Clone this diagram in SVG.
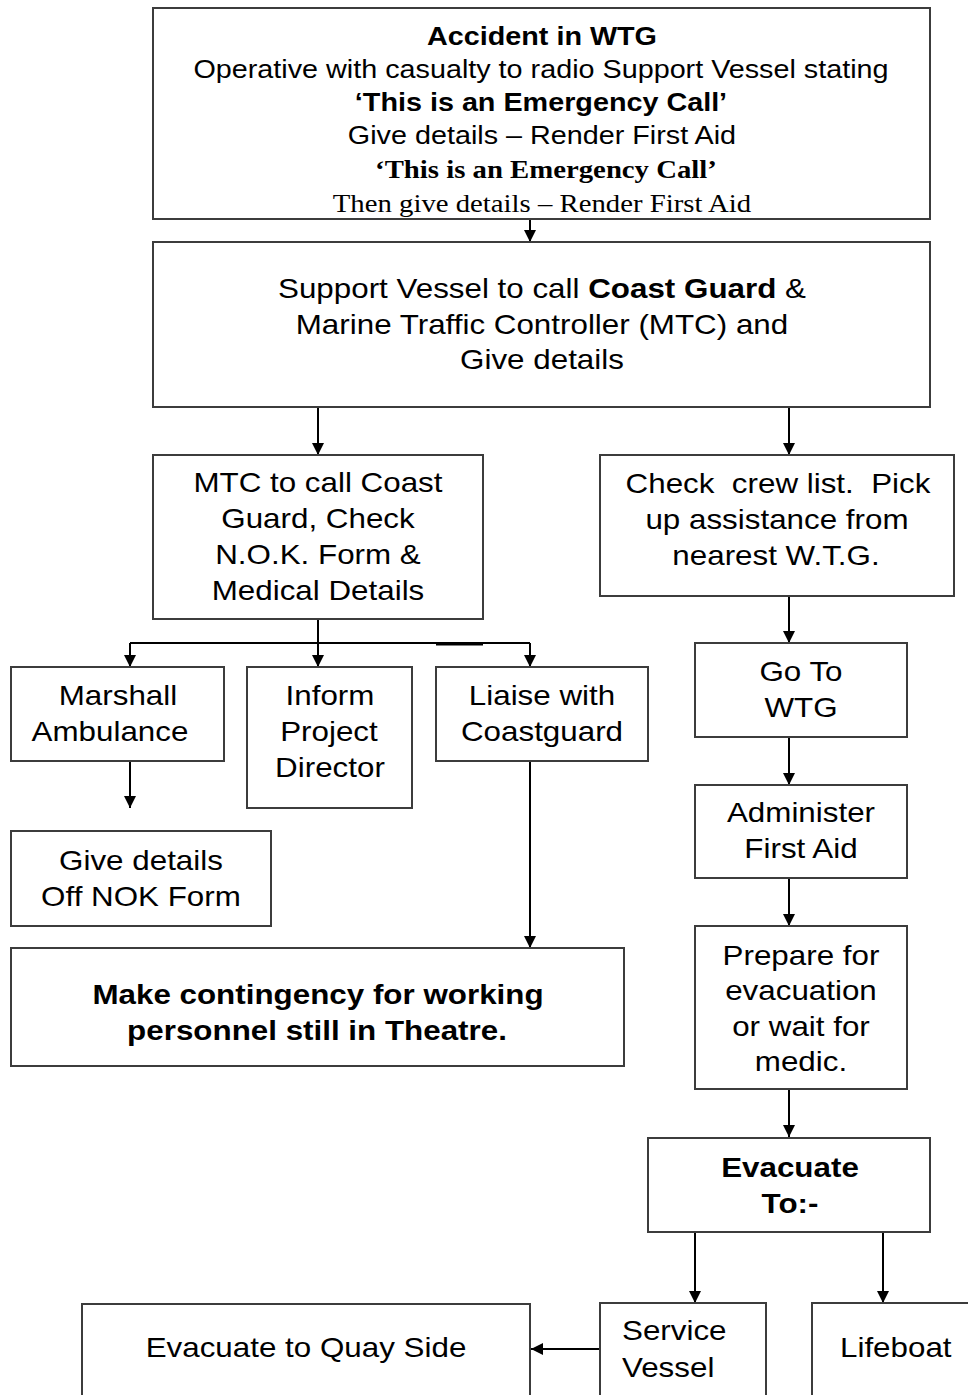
<svg xmlns="http://www.w3.org/2000/svg" width="968" height="1395" viewBox="0 0 968 1395">
  <style>
    .box { fill: #ffffff; stroke: #3c3c3c; stroke-width: 2; }
    .wire { fill: none; stroke: #000000; stroke-width: 2; }
    text { font-family: "Liberation Sans", Arial, sans-serif; font-size: 28px; fill: #000000; text-anchor: middle; }
    .b { font-weight: bold; }
    .top { font-size: 25px; }
    .serif { font-family: "Liberation Serif", "Times New Roman", serif; }
    .left { text-anchor: start; }
    /* the lettering is set slightly wide */
    .sx { transform-box: fill-box; transform-origin: center; transform: scaleX(1.12); }
    .sxt { transform-box: fill-box; transform-origin: center; transform: scaleX(1.15); }
    .sxl { transform-box: fill-box; transform-origin: left center; transform: scaleX(1.12); }
    .pre { white-space: pre; }
  </style>
  <defs>
    <marker id="arrow" viewBox="0 0 12 12" markerWidth="12" markerHeight="12" refX="12" refY="6" orient="auto" markerUnits="userSpaceOnUse">
      <path d="M0,0 L12,6 L0,12 z" fill="#000000"/>
    </marker>
    <clipPath id="topClip">
      <rect x="153" y="8" width="777" height="209"/>
    </clipPath>
  </defs>

  <rect width="968" height="1395" fill="#ffffff"/>

  <!-- connectors -->
  <g id="connectors">
    <path class="wire" d="M530,219 V242" marker-end="url(#arrow)"/>
    <path class="wire" d="M318,407 V455" marker-end="url(#arrow)"/>
    <path class="wire" d="M789,407 V455" marker-end="url(#arrow)"/>
    <path class="wire" d="M318,619 V667" marker-end="url(#arrow)"/>
    <path class="wire" d="M130,643 H530"/>
    <path class="wire" d="M436,644.5 H483"/>
    <path class="wire" d="M130,643 V667" marker-end="url(#arrow)"/>
    <path class="wire" d="M530,643 V667" marker-end="url(#arrow)"/>
    <path class="wire" d="M130,761 V808" marker-end="url(#arrow)"/>
    <path class="wire" d="M530,761 V948" marker-end="url(#arrow)"/>
    <path class="wire" d="M789,596 V643" marker-end="url(#arrow)"/>
    <path class="wire" d="M789,737 V785" marker-end="url(#arrow)"/>
    <path class="wire" d="M789,878 V926" marker-end="url(#arrow)"/>
    <path class="wire" d="M789,1089 V1137" marker-end="url(#arrow)"/>
    <path class="wire" d="M695,1232 V1303" marker-end="url(#arrow)"/>
    <path class="wire" d="M883,1232 V1303" marker-end="url(#arrow)"/>
    <path class="wire" d="M600,1349 H531" marker-end="url(#arrow)"/>
  </g>

  <g id="accident">
    <rect class="box" x="153" y="8" width="777" height="211"/>
    <g clip-path="url(#topClip)">
      <text class="top b sxt" x="542" y="45">Accident in WTG</text>
      <text class="top sxt" x="541" y="78">Operative with casualty to radio Support Vessel stating</text>
      <text class="top b sxt" x="541" y="111">‘This is an Emergency Call’</text>
      <text class="top sxt" x="542" y="144">Give details – Render First Aid</text>
      <text class="top b serif sxt" x="546" y="178">‘This is an Emergency Call’</text>
      <text class="top serif sxt" x="542" y="212">Then give details – Render First Aid</text>
    </g>
  </g>

  <g id="support-vessel">
    <rect class="box" x="153" y="242" width="777" height="165"/>
    <text class="sx" x="542" y="298">Support Vessel to call <tspan class="b">Coast Guard</tspan> &amp;</text>
    <text class="sx" x="542" y="334">Marine Traffic Controller (MTC) and</text>
    <text class="sx" x="542" y="369">Give details</text>
  </g>

  <g id="mtc">
    <rect class="box" x="153" y="455" width="330" height="164"/>
    <text class="sx" x="318" y="492">MTC to call Coast</text>
    <text class="sx" x="318" y="528">Guard, Check</text>
    <text class="sx" x="318" y="564">N.O.K. Form &amp;</text>
    <text class="sx" x="318" y="600">Medical Details</text>
  </g>

  <g id="crew-list">
    <rect class="box" x="600" y="455" width="354" height="141"/>
    <text class="sx pre" x="778" y="493">Check  crew list.  Pick</text>
    <text class="sx" x="777" y="529">up assistance from</text>
    <text class="sx" x="776" y="565">nearest W.T.G.</text>
  </g>

  <g id="marshall">
    <rect class="box" x="11" y="667" width="213" height="94"/>
    <text class="sx" x="118" y="705">Marshall</text>
    <text class="sx" x="110" y="741">Ambulance</text>
  </g>

  <g id="inform">
    <rect class="box" x="247" y="667" width="165" height="141"/>
    <text class="sx" x="330" y="705">Inform</text>
    <text class="sx" x="329" y="741">Project</text>
    <text class="sx" x="330" y="777">Director</text>
  </g>

  <g id="liaise">
    <rect class="box" x="436" y="667" width="212" height="94"/>
    <text class="sx" x="542" y="705">Liaise with</text>
    <text class="sx" x="542" y="741">Coastguard</text>
  </g>

  <g id="nok-details">
    <rect class="box" x="11" y="831" width="260" height="95"/>
    <text class="sx" x="141" y="870">Give details</text>
    <text class="sx" x="141" y="906">Off NOK Form</text>
  </g>

  <g id="contingency">
    <rect class="box" x="11" y="948" width="613" height="118"/>
    <text class="b sx" x="318" y="1004">Make contingency for working</text>
    <text class="b sx" x="317" y="1040">personnel still in Theatre.</text>
  </g>

  <g id="go-to-wtg">
    <rect class="box" x="695" y="643" width="212" height="94"/>
    <text class="sx" x="801" y="681">Go To</text>
    <text class="sx" x="801" y="717">WTG</text>
  </g>

  <g id="first-aid">
    <rect class="box" x="695" y="785" width="212" height="93"/>
    <text class="sx" x="801" y="822">Administer</text>
    <text class="sx" x="801" y="858">First Aid</text>
  </g>

  <g id="prepare">
    <rect class="box" x="695" y="926" width="212" height="163"/>
    <text class="sx" x="801" y="965">Prepare for</text>
    <text class="sx" x="801" y="1000">evacuation</text>
    <text class="sx" x="801" y="1036">or wait for</text>
    <text class="sx" x="801" y="1071">medic.</text>
  </g>

  <g id="evacuate-to">
    <rect class="box" x="648" y="1138" width="282" height="94"/>
    <text class="b sx" x="790" y="1177">Evacuate</text>
    <text class="b sx" x="790" y="1213">To:-</text>
  </g>

  <g id="quay-side">
    <rect class="box" x="82" y="1304" width="448" height="110"/>
    <text class="sx" x="306" y="1357">Evacuate to Quay Side</text>
  </g>

  <g id="service-vessel">
    <rect class="box" x="600" y="1303" width="166" height="110"/>
    <text class="left sxl" x="622" y="1340">Service</text>
    <text class="left sxl" x="622" y="1377">Vessel</text>
  </g>

  <g id="lifeboat">
    <rect class="box" x="812" y="1303" width="170" height="110"/>
    <text class="left sxl" x="840" y="1357">Lifeboat</text>
  </g>
</svg>
